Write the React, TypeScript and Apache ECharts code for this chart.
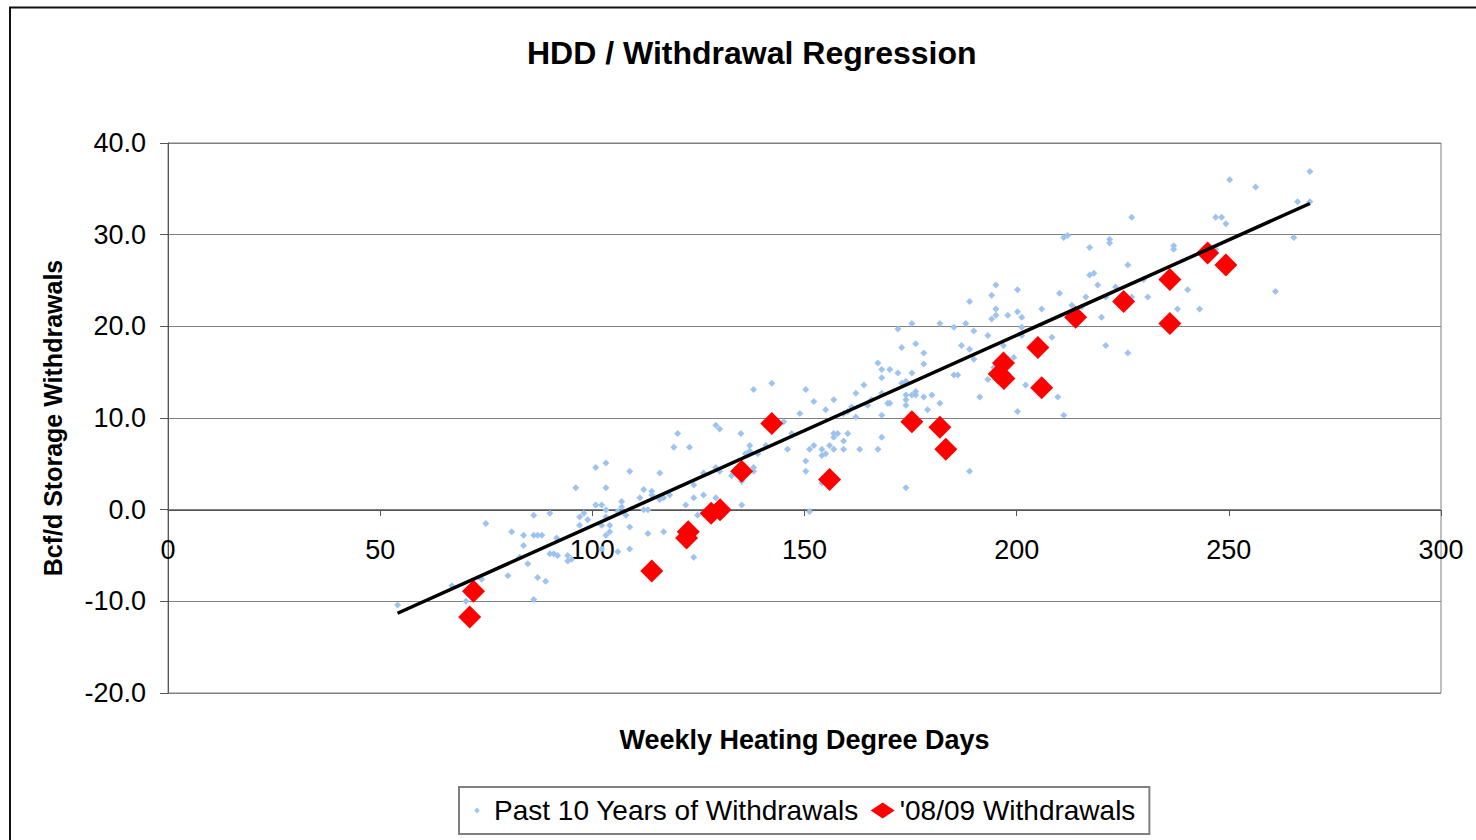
import React, { useEffect, useRef } from "react";
import * as echarts from "echarts";

const FONT = "'Liberation Sans', Arial, Helvetica, sans-serif";

const chartTitle = "HDD / Withdrawal Regression";
const xAxisTitle = "Weekly Heating Degree Days";
const yAxisTitle = "Bcf/d Storage Withdrawals";
const seriesNames = ["Past 10 Years of Withdrawals", "'08/09 Withdrawals"];

// [weekly HDD, Bcf/d withdrawals]
const pastYears: [number, number][] = [
  [54.1, -10.4], [66.9, -8.3], [70.2, -10.0], [73.9, -7.6], [74.9, -1.5], [80.1, -7.2], [81.0, -2.4],
  [82.9, -5.2], [83.8, -2.8], [83.8, -3.9], [84.8, -5.9], [86.2, -0.6], [86.2, -2.8], [87.1, -2.8],
  [88.1, -2.8], [86.2, -9.8], [87.1, -7.4], [89.0, -7.8], [90.0, -0.4], [90.0, -4.8], [90.9, -4.8],
  [91.8, -5.0], [91.6, -3.1], [94.2, -5.0], [94.2, -5.6], [95.1, -5.4], [96.1, 2.4], [97.0, -0.8],
  [97.0, -1.7], [98.0, -0.4], [98.9, -1.1], [100.8, 4.6], [103.2, 5.1], [103.2, 2.4], [100.8, 0.5],
  [102.2, 0.5], [103.2, 0.0], [103.2, -0.8], [104.1, -1.7], [104.1, -2.4], [102.2, -1.7], [103.2, -2.8],
  [102.2, -4.3], [106.0, -4.6], [106.9, 0.9], [106.9, 0.3], [106.0, -0.2], [107.9, -0.6], [108.8, -1.9],
  [108.8, -4.3], [108.8, 4.2], [111.2, 1.3], [112.1, 2.2], [114.0, 2.0], [114.0, 1.6], [112.1, 0.0],
  [113.1, 0.0], [113.1, -2.6], [116.8, -2.4], [115.9, 4.0], [115.9, 1.1], [116.8, 1.3], [118.2, 1.6],
  [119.2, 6.8], [120.1, 8.3], [122.9, 6.8], [122.0, 0.5], [123.9, 1.3], [123.9, 2.7], [124.8, -0.6],
  [123.9, -5.2], [126.2, 1.6], [126.2, 4.0], [129.1, 4.6], [130.0, 4.2], [129.1, 1.3], [129.1, 9.2],
  [130.0, 8.8], [132.8, 3.7], [135.0, 8.3], [135.2, 3.1], [135.2, 0.5], [136.1, 6.1], [137.1, 6.4],
  [137.1, 7.0], [139.0, 6.1], [140.9, 7.0], [138.0, 4.6], [138.0, 4.2], [138.0, 13.1], [142.3, 13.8],
  [145.1, 9.6], [147.0, 8.3], [146.0, 6.6], [148.9, 10.5], [150.3, 13.1], [152.2, 11.8], [155.0, 10.9],
  [156.9, 12.0], [150.3, 5.3], [150.3, 4.2], [151.2, 6.6], [152.2, 7.0], [154.1, 6.6], [154.1, 5.9],
  [155.0, 6.1], [155.9, 7.0], [156.9, 8.3], [157.8, 8.3], [156.9, 7.9], [156.9, 6.6], [159.2, 7.5],
  [159.2, 6.6], [160.2, 8.3], [154.1, 2.9], [151.2, -0.2], [159.2, 10.5], [160.2, 10.7], [161.1, 11.2],
  [162.1, 12.7], [164.0, 13.6], [162.1, 10.1], [164.9, 11.4], [165.8, 12.0], [167.3, 16.0], [168.2, 15.3],
  [168.2, 14.4], [168.2, 12.7], [168.2, 10.3], [169.6, 11.6], [163.0, 6.6], [167.3, 6.6], [168.2, 7.9],
  [170.1, 15.3], [172.0, 14.9], [172.0, 19.7], [172.9, 17.7], [175.3, 20.3], [176.2, 18.1], [178.1, 17.1],
  [178.1, 15.9], [175.3, 14.9], [172.9, 13.8], [173.9, 14.0], [170.1, 11.6], [173.9, 12.5], [173.9, 12.0],
  [173.9, 11.4], [175.3, 12.5], [176.2, 12.5], [176.2, 12.9], [178.1, 12.3], [180.0, 12.5], [179.0, 10.9],
  [181.9, 11.6], [173.9, 2.4], [181.9, 20.3], [185.2, 19.9], [188.0, 20.3], [187.0, 17.9], [188.9, 17.5],
  [189.9, 16.4], [185.2, 14.7], [186.1, 14.7], [191.3, 12.3], [188.9, 4.2], [188.9, 22.7], [189.9, 19.5],
  [193.2, 19.0], [193.2, 14.2], [194.6, 15.5], [195.1, 24.5], [194.1, 23.4], [195.1, 21.9], [195.1, 21.2],
  [194.1, 20.8], [196.9, 17.9], [197.9, 21.2], [199.3, 16.6], [200.2, 24.0], [200.2, 21.6], [201.2, 21.0],
  [201.2, 19.9], [201.2, 19.0], [202.1, 13.6], [200.2, 10.7], [205.9, 21.9], [208.3, 18.8], [209.7, 12.3],
  [211.1, 10.3], [211.1, 29.7], [212.0, 29.9], [210.1, 23.6], [213.0, 22.3], [215.3, 22.1], [216.3, 23.2],
  [217.2, 28.6], [217.2, 25.6], [218.2, 25.8], [219.1, 24.5], [220.0, 21.0], [221.0, 23.2], [221.0, 17.9],
  [221.9, 29.5], [221.9, 29.1], [223.3, 24.3], [226.2, 26.7], [226.2, 17.1], [227.1, 31.9], [227.1, 23.2],
  [229.9, 25.1], [230.9, 23.2], [237.0, 28.8], [237.0, 28.4], [237.9, 21.9], [240.3, 24.0], [243.1, 21.9],
  [246.9, 31.9], [248.3, 31.9], [249.3, 31.2], [246.9, 28.4], [250.2, 36.0], [256.3, 35.2], [261.0, 23.8],
  [265.3, 29.7], [266.2, 33.6], [269.1, 33.6], [269.1, 36.9],
];

const season0809: [number, number][] = [
  [71.1, -11.7], [72.0, -8.9], [114.0, -6.7], [122.2, -3.1], [122.6, -2.4], [128.0, -0.4], [130.1, 0.0],
  [135.2, 4.2], [142.3, 9.4], [155.9, 3.3], [175.3, 9.6], [181.9, 9.0], [183.3, 6.6], [195.9, 14.8],
  [196.9, 16.0], [197.0, 14.3], [205.0, 17.7], [205.9, 13.3], [213.9, 21.0], [225.2, 22.7], [236.1, 25.1],
  [236.1, 20.3], [245.0, 28.0], [249.3, 26.7],
];

// Linear trendline end points as drawn
const trendLine: [number, number][] = [
  [54.1, -11.3],
  [269.1, 33.4],
];

export default function App() {
  const ref = useRef<HTMLDivElement>(null);

  useEffect(() => {
    if (!ref.current) return;
    const chart = echarts.init(ref.current, null, { renderer: "svg" });
    chart.setOption({
      animation: false,
      backgroundColor: "#ffffff",
      textStyle: { fontFamily: FONT },
      title: {
        text: chartTitle,
        left: 527,
        top: 37,
        padding: 0,
        textStyle: { fontSize: 32, fontWeight: "bold", color: "#000", fontFamily: FONT },
      },
      grid: {
        left: 168,
        top: 143,
        right: 35,
        bottom: 147,
        show: true,
        borderColor: "#808080",
        borderWidth: 1,
        backgroundColor: "transparent",
        containLabel: false,
        outerBoundsMode: "none",
      },
      legend: {
        left: 459,
        top: 787,
        data: [
          { name: seriesNames[0], icon: "path://M0,0M16,16M5.4,8L8,5L10.6,8L8,11Z" },
          { name: seriesNames[1], icon: "diamond" },
        ],
        itemWidth: 24,
        itemHeight: 16,
        itemGap: 12,
        padding: [8, 14, 8, 10],
        borderColor: "#808080",
        borderWidth: 2,
        textStyle: { fontSize: 28, color: "#000", fontFamily: FONT, lineHeight: 31 },
      },
      xAxis: {
        type: "value",
        min: 0,
        max: 300,
        interval: 50,
        offset: -183,
        name: xAxisTitle,
        nameLocation: "middle",
        nameGap: 216,
        nameTextStyle: { fontSize: 27, fontWeight: "bold", color: "#000", fontFamily: FONT },
        axisLine: { show: true, onZero: false, lineStyle: { color: "#555", width: 1 } },
        axisTick: { show: true, length: 6, lineStyle: { color: "#555" } },
        axisLabel: { fontSize: 27, color: "#000", margin: 26, fontFamily: FONT },
        splitLine: { show: false },
      },
      yAxis: {
        type: "value",
        min: -20,
        max: 40,
        interval: 10,
        name: yAxisTitle,
        nameLocation: "middle",
        nameRotate: 90,
        nameGap: 103,
        nameTextStyle: { fontSize: 25, fontWeight: "bold", color: "#000", fontFamily: FONT },
        axisLine: { show: true, onZero: false, lineStyle: { color: "#555", width: 1 } },
        axisTick: { show: true, length: 8, lineStyle: { color: "#555" } },
        axisLabel: {
          fontSize: 27,
          color: "#000",
          margin: 22,
          fontFamily: FONT,
          formatter: (v: number) => v.toFixed(1),
        },
        splitLine: { show: true, lineStyle: { color: "#808080", width: 1 } },
      },
      graphic: [
        {
          type: "rect",
          silent: true,
          z: 100,
          shape: { x: 10, y: 7.5, width: 1500, height: 900 },
          style: { fill: "none", stroke: "#111", lineWidth: 2 },
        },
      ],
      series: [
        {
          name: seriesNames[0],
          type: "scatter",
          data: pastYears,
          symbol: "diamond",
          symbolSize: 7,
          itemStyle: { color: "#9dc3ef", opacity: 1 },
          z: 2,
        },
        {
          name: "Linear trend",
          type: "line",
          data: trendLine,
          symbol: "none",
          silent: true,
          lineStyle: { color: "#000", width: 3.5 },
          z: 5,
        },
        {
          name: seriesNames[1],
          type: "scatter",
          data: season0809,
          symbol: "diamond",
          symbolSize: 23,
          itemStyle: { color: "#ff0000", opacity: 1 },
          z: 4,
        },
      ],
    });
    return () => chart.dispose();
  }, []);

  return (
    <div
      ref={ref}
      style={{ position: "absolute", left: 0, top: 0, width: 1476, height: 840 }}
    />
  );
}
